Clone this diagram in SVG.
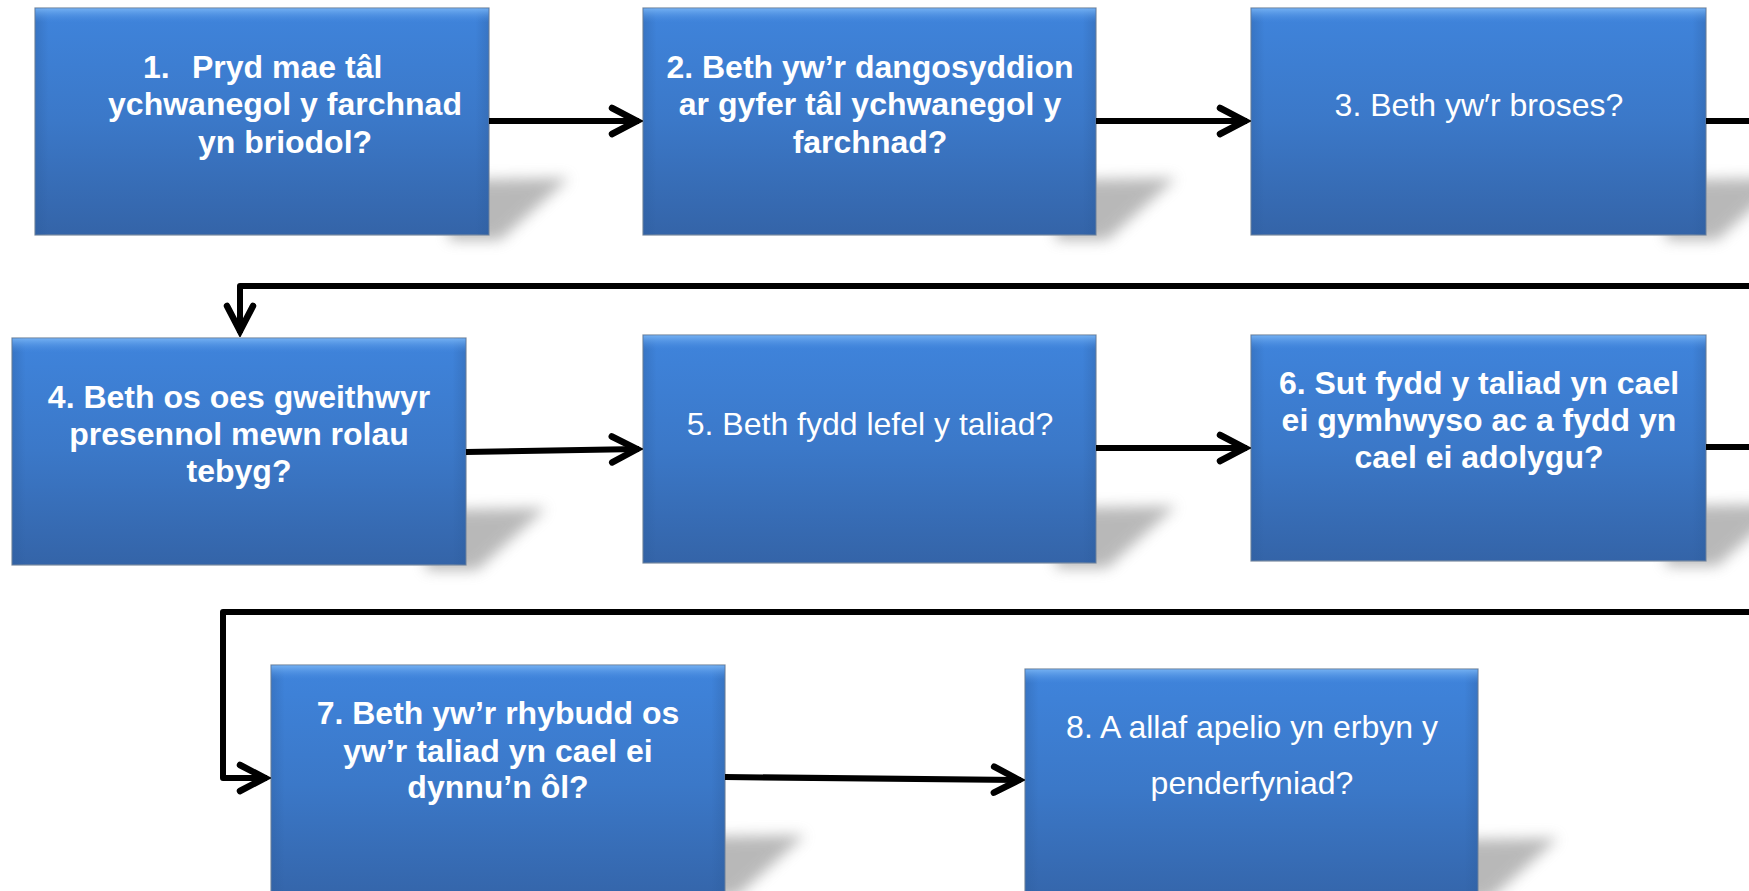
<svg xmlns="http://www.w3.org/2000/svg" width="1749" height="891" viewBox="0 0 1749 891">
<style>
.box{fill:url(#boxFill);stroke:#7a8ba0;stroke-width:1.2}
.bevel{fill:url(#bevelTop)}
.side{fill:url(#bevelSide)}
.shadow{fill:#8a8a8a;opacity:0.6;filter:url(#blur)}
.t{font-family:"Liberation Sans",Arial,sans-serif;font-size:32px;fill:#ffffff;text-anchor:middle}
.b{font-weight:bold}
.conn{fill:none;stroke:#000;stroke-width:6;stroke-linejoin:round}
</style>
<defs>
<linearGradient id="boxFill" x1="0" y1="0" x2="0" y2="1">
<stop offset="0" stop-color="#3f84dc"/>
<stop offset="0.5" stop-color="#3b78c8"/>
<stop offset="1" stop-color="#3464a8"/>
</linearGradient>
<linearGradient id="bevelTop" x1="0" y1="0" x2="0" y2="1">
<stop offset="0" stop-color="#78b4f4" stop-opacity="0.9"/>
<stop offset="1" stop-color="#4a8ce0" stop-opacity="0"/>
</linearGradient>
<linearGradient id="bevelSide" x1="0" y1="0" x2="1" y2="0">
<stop offset="0" stop-color="#2c5c9c" stop-opacity="0.35"/>
<stop offset="0.03" stop-color="#2c5c9c" stop-opacity="0"/>
<stop offset="0.97" stop-color="#2c5c9c" stop-opacity="0"/>
<stop offset="1" stop-color="#2c5c9c" stop-opacity="0.35"/>
</linearGradient>
<filter id="blur" x="-50%" y="-50%" width="200%" height="200%">
<feGaussianBlur stdDeviation="7"/>
</filter>
<marker id="arr" markerUnits="userSpaceOnUse" markerWidth="40" markerHeight="40" viewBox="-36 -20 40 40" refX="0" refY="0" orient="auto">
<path d="M-27,-13 L-2,0 L-27,13" fill="none" stroke="#000" stroke-width="6.5" stroke-linecap="round" stroke-linejoin="miter"/>
</marker>
</defs>
<rect width="1749" height="891" fill="#ffffff"/>

<g id="node1">
<polygon class="shadow" points="449,180 569,178 500,240 449,240"/>
<rect class="box" x="35" y="8" width="454" height="227"/>
<rect class="side" x="35" y="8" width="454" height="227"/>
<rect class="bevel" x="35.5" y="8.5" width="453" height="14"/>
<text class="t b" x="143" y="78" text-anchor="start" style="text-anchor:start">1.</text>
<text class="t b" x="192" y="78" style="text-anchor:start">Pryd mae tâl</text>
<text class="t b" x="285" y="115">ychwanegol y farchnad</text>
<text class="t b" x="285" y="153">yn briodol?</text>
</g>

<g id="node2">
<polygon class="shadow" points="1056,180 1176,178 1107,240 1056,240"/>
<rect class="box" x="643" y="8" width="453" height="227"/>
<rect class="side" x="643" y="8" width="453" height="227"/>
<rect class="bevel" x="643.5" y="8.5" width="452" height="14"/>
<text class="t b" x="870" y="78">2. Beth yw’r dangosyddion</text>
<text class="t b" x="870" y="115">ar gyfer tâl ychwanegol y</text>
<text class="t b" x="870" y="153">farchnad?</text>
</g>

<g id="node3">
<polygon class="shadow" points="1666,180 1786,178 1717,240 1666,240"/>
<rect class="box" x="1251" y="8" width="455" height="227"/>
<rect class="side" x="1251" y="8" width="455" height="227"/>
<rect class="bevel" x="1251.5" y="8.5" width="454" height="14"/>
<text class="t" x="1479" y="116">3. Beth yw′r broses?</text>
</g>

<g id="node4">
<polygon class="shadow" points="426,510 546,508 477,570 426,570"/>
<rect class="box" x="12" y="338" width="454" height="227"/>
<rect class="side" x="12" y="338" width="454" height="227"/>
<rect class="bevel" x="12.5" y="338.5" width="453" height="14"/>
<text class="t b" x="239" y="408">4. Beth os oes gweithwyr</text>
<text class="t b" x="239" y="445">presennol mewn rolau</text>
<text class="t b" x="239" y="482">tebyg?</text>
</g>

<g id="node5">
<polygon class="shadow" points="1056,508 1176,506 1107,568 1056,568"/>
<rect class="box" x="643" y="335" width="453" height="228"/>
<rect class="side" x="643" y="335" width="453" height="228"/>
<rect class="bevel" x="643.5" y="335.5" width="452" height="14"/>
<text class="t" x="870" y="435">5. Beth fydd lefel y taliad?</text>
</g>

<g id="node6">
<polygon class="shadow" points="1666,506 1786,504 1717,566 1666,566"/>
<rect class="box" x="1251" y="335" width="455" height="226"/>
<rect class="side" x="1251" y="335" width="455" height="226"/>
<rect class="bevel" x="1251.5" y="335.5" width="454" height="14"/>
<text class="t b" x="1479" y="394">6. Sut fydd y taliad yn cael</text>
<text class="t b" x="1479" y="431">ei gymhwyso ac a fydd yn</text>
<text class="t b" x="1479" y="468">cael ei adolygu?</text>
</g>

<g id="node7">
<polygon class="shadow" points="685,837 805,835 736,897 685,897"/>
<rect class="box" x="271" y="665" width="454" height="240"/>
<rect class="side" x="271" y="665" width="454" height="240"/>
<rect class="bevel" x="271.5" y="665.5" width="453" height="14"/>
<text class="t b" x="498" y="724">7. Beth yw’r rhybudd os</text>
<text class="t b" x="498" y="762">yw’r taliad yn cael ei</text>
<text class="t b" x="498" y="798">dynnu’n ôl?</text>
</g>

<g id="node8">
<polygon class="shadow" points="1438,840 1558,838 1489,900 1438,900"/>
<rect class="box" x="1025" y="669" width="453" height="240"/>
<rect class="side" x="1025" y="669" width="453" height="240"/>
<rect class="bevel" x="1025.5" y="669.5" width="452" height="14"/>
<text class="t" x="1252" y="738">8. A allaf apelio yn erbyn y</text>
<text class="t" x="1252" y="794">penderfyniad?</text>
</g>

<g id="connectors">
<path class="conn" d="M489,121 H639" marker-end="url(#arr)"/>
<path class="conn" d="M1096,121 H1247" marker-end="url(#arr)"/>
<path class="conn" d="M1706,121 H1760"/>
<path class="conn" d="M1760,286 H240 V333" marker-end="url(#arr)"/>
<path class="conn" d="M466,452 L639,449" marker-end="url(#arr)"/>
<path class="conn" d="M1096,448 H1247" marker-end="url(#arr)"/>
<path class="conn" d="M1706,447 H1760"/>
<path class="conn" d="M1760,612 H223 V778 H267" marker-end="url(#arr)"/>
<path class="conn" d="M725,777 L1021,780" marker-end="url(#arr)"/>
</g>
</svg>
